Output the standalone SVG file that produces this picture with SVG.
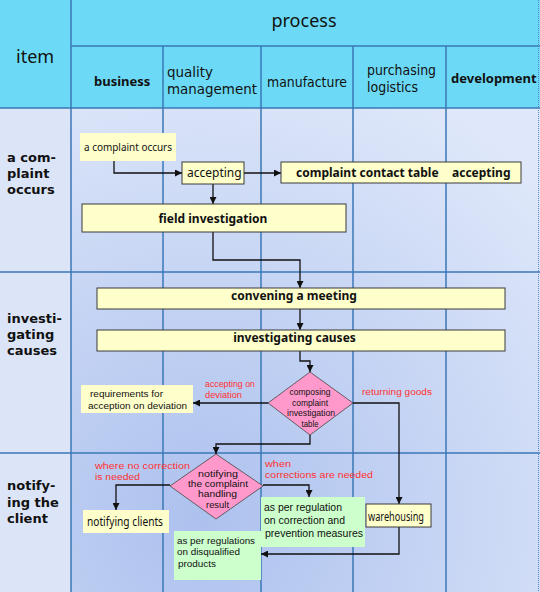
<svg xmlns="http://www.w3.org/2000/svg" width="540" height="592" viewBox="0 0 540 592">
<style>
text{font-family:"Noto Sans","DejaVu Sans",sans-serif;fill:#111}
.hd{font-family:"DejaVu Sans",sans-serif;font-size:13.5px}
.hb{font-size:13px;font-weight:bold}
.lab{font-family:"DejaVu Sans",sans-serif;font-size:13px;font-weight:bold}
.big{font-size:18px}
.t{font-size:11px}
.t12{font-size:12px}
.b12{font-size:12px;font-weight:bold}
.d{font-family:"Liberation Sans",Arial,sans-serif;font-size:8.6px;text-anchor:middle}
.rq{font-family:"Liberation Sans",Arial,sans-serif;font-size:9.3px}
.g1{font-family:"Liberation Sans",Arial,sans-serif;font-size:10px}
.g2{font-family:"Liberation Sans",Arial,sans-serif;font-size:8.8px}
.red{font-family:"Liberation Sans",Arial,sans-serif;font-size:8.5px;fill:#ff3030}
.grid{stroke:#3b78b6;stroke-width:1.5;fill:none}
.box{fill:#ffffcc;stroke:#3a3a3a;stroke-width:1}
.ybox{fill:#ffffcc}
.gbox{fill:#ccffcc}
.dia{fill:#ff99cc;stroke:#444;stroke-width:0.8}
.con{fill:none;stroke:#111;stroke-width:1.3;marker-end:url(#arr)}
.mid{text-anchor:middle}
</style>
<defs>
<radialGradient id="bg" cx="200" cy="520" r="480" gradientUnits="userSpaceOnUse">
<stop offset="0" stop-color="#adc1ee"/>
<stop offset="1" stop-color="#dfe8fa"/>
</radialGradient>
<marker id="arr" markerWidth="7" markerHeight="7" refX="7" refY="3.5" orient="auto" markerUnits="userSpaceOnUse">
<path d="M0,0 L7,3.5 L0,7 z" fill="#111"/>
</marker>
</defs>
<g id="table">
<rect x="0" y="0" width="540" height="108" fill="#6cdaf6"/>
<rect x="0" y="108" width="71" height="484" fill="#dce5f7"/>
<rect x="71" y="108" width="469" height="484" fill="url(#bg)"/>
<path class="grid" d="M71,46 H540 M0,108 H540 M0,272 H540 M0,453 H540 M71,0 V592 M163,46 V592 M261,46 V592 M353,46 V592 M446,46 V592"/>
<path d="M538.5,0 V592" stroke="#5a88c6" stroke-width="1" stroke-dasharray="1,1"/>
<text class="big" x="16" y="63">item</text>
<text class="big mid" x="304" y="27">process</text>
<text class="hb" x="94" y="86">business</text>
<text class="hd" x="167" y="77" textLength="46" lengthAdjust="spacingAndGlyphs">quality</text>
<text class="hd" x="167" y="94" textLength="90" lengthAdjust="spacingAndGlyphs">management</text>
<text class="hd" x="267" y="87" textLength="80" lengthAdjust="spacingAndGlyphs">manufacture</text>
<text class="hd" x="367" y="75" textLength="69" lengthAdjust="spacingAndGlyphs">purchasing</text>
<text class="hd" x="367" y="92" textLength="51" lengthAdjust="spacingAndGlyphs">logistics</text>
<text class="hb" x="451" y="83">development</text>
<text class="lab" x="7" y="161.5">a com-</text>
<text class="lab" x="7" y="177.5">plaint</text>
<text class="lab" x="7" y="193.5">occurs</text>
<text class="lab" x="7" y="323">investi-</text>
<text class="lab" x="7" y="339">gating</text>
<text class="lab" x="7" y="355">causes</text>
<text class="lab" x="7" y="490">notify-</text>
<text class="lab" x="7" y="506.5">ing the</text>
<text class="lab" x="7" y="523">client</text>
</g>
<g id="connectors">
<path class="con" d="M114,161 V173 H182"/>
<path class="con" d="M244,173 H281"/>
<path class="con" d="M213,184 V204"/>
<path class="con" d="M213,232 V260 H300 V288"/>
<path class="con" d="M300,309 V330"/>
<path class="con" d="M300,351 V361 H310 V372"/>
<path class="con" d="M268,403 H193"/>
<path class="con" d="M353,403 H399 V504"/>
<path class="con" d="M310,435 V444 H216 V454"/>
<path class="con" d="M170,485 H116 V510"/>
<path class="con" d="M263,485 H309 V497"/>
<path class="con" d="M399,527 V554 H261"/>
<g id="edge-labels">
<text class="red" x="205" y="387" textLength="50" lengthAdjust="spacingAndGlyphs">accepting on</text>
<text class="red" x="205" y="398" textLength="37" lengthAdjust="spacingAndGlyphs">deviation</text>
<text class="red" x="362" y="395" textLength="70" lengthAdjust="spacingAndGlyphs">returning goods</text>
<text class="red" x="95" y="469" textLength="95" lengthAdjust="spacingAndGlyphs">where no correction</text>
<text class="red" x="95" y="480" textLength="45" lengthAdjust="spacingAndGlyphs">is needed</text>
<text class="red" x="265" y="467" textLength="26" lengthAdjust="spacingAndGlyphs">when</text>
<text class="red" x="265" y="478" textLength="108" lengthAdjust="spacingAndGlyphs">corrections are needed</text>
</g>
</g>
<g id="n-complaint-occurs">
<rect class="ybox" x="80" y="133" width="96" height="28"/>
<text class="t" x="84" y="151" textLength="88" lengthAdjust="spacingAndGlyphs">a complaint occurs</text>
</g>
<g id="n-accepting">
<rect class="box" x="182" y="162" width="62" height="22"/>
<text class="t12" x="187" y="177">accepting</text>
</g>
<g id="n-contact-table">
<rect class="box" x="281" y="162" width="240" height="21"/>
<text class="b12" y="177"><tspan x="296">complaint contact table</tspan><tspan x="452">accepting</tspan></text>
</g>
<g id="n-field-investigation">
<rect class="box" x="82" y="204" width="264" height="28"/>
<text class="b12 mid" x="213" y="223">field investigation</text>
</g>
<g id="n-convening">
<rect class="box" x="97" y="288" width="408" height="21"/>
<text class="b12 mid" x="294" y="300">convening a meeting</text>
</g>
<g id="n-investigating">
<rect class="box" x="97" y="330" width="408" height="21"/>
<text class="b12 mid" x="294.5" y="342">investigating causes</text>
</g>
<g id="n-composing">
<polygon class="dia" points="310,372 353,403 310,435 268,403"/>
<text class="d" x="310" y="395" textLength="41" lengthAdjust="spacingAndGlyphs">composing</text>
<text class="d" x="310" y="405.5" textLength="36" lengthAdjust="spacingAndGlyphs">complaint</text>
<text class="d" x="311" y="416" textLength="48" lengthAdjust="spacingAndGlyphs">investigation</text>
<text class="d" x="310" y="426.5" textLength="17" lengthAdjust="spacingAndGlyphs">table</text>
</g>
<g id="n-requirements">
<rect class="ybox" x="81" y="385" width="112" height="28"/>
<text class="rq" x="90" y="397" textLength="73" lengthAdjust="spacingAndGlyphs">requirements for</text>
<text class="rq" x="88" y="409" textLength="99" lengthAdjust="spacingAndGlyphs">acception on deviation</text>
</g>
<g id="n-notifying-result">
<polygon class="dia" points="216,454 263,486 216,519 170,486"/>
<text class="d" x="218" y="476.5" textLength="40" lengthAdjust="spacingAndGlyphs">notifying</text>
<text class="d" x="218" y="486.9" textLength="60" lengthAdjust="spacingAndGlyphs">the complaint</text>
<text class="d" x="217.5" y="497.3" textLength="39" lengthAdjust="spacingAndGlyphs">handling</text>
<text class="d" x="217.5" y="507.7" textLength="23" lengthAdjust="spacingAndGlyphs">result</text>
</g>
<g id="n-notifying-clients">
<rect class="ybox" x="83" y="510" width="86" height="23"/>
<text class="t12" x="87" y="526" textLength="76" lengthAdjust="spacingAndGlyphs">notifying clients</text>
</g>
<g id="n-correction">
<rect class="gbox" x="261" y="497" width="104" height="50"/>
<text class="g1" x="264" y="511" textLength="78" lengthAdjust="spacingAndGlyphs">as per regulation</text>
<text class="g1" x="264" y="524" textLength="81" lengthAdjust="spacingAndGlyphs">on correction and</text>
<text class="g1" x="265" y="537" textLength="98" lengthAdjust="spacingAndGlyphs">prevention measures</text>
</g>
<g id="n-disqualified">
<rect class="gbox" x="174" y="531" width="87" height="49"/>
<text class="g2" x="177" y="543.5" textLength="78" lengthAdjust="spacingAndGlyphs">as per regulations</text>
<text class="g2" x="177" y="555" textLength="63" lengthAdjust="spacingAndGlyphs">on disqualified</text>
<text class="g2" x="178" y="566.5" textLength="38" lengthAdjust="spacingAndGlyphs">products</text>
</g>
<g id="n-warehousing">
<rect class="box" x="366" y="504" width="65" height="23"/>
<text class="t12" x="368" y="521" textLength="56" lengthAdjust="spacingAndGlyphs">warehousing</text>
</g>
</svg>
